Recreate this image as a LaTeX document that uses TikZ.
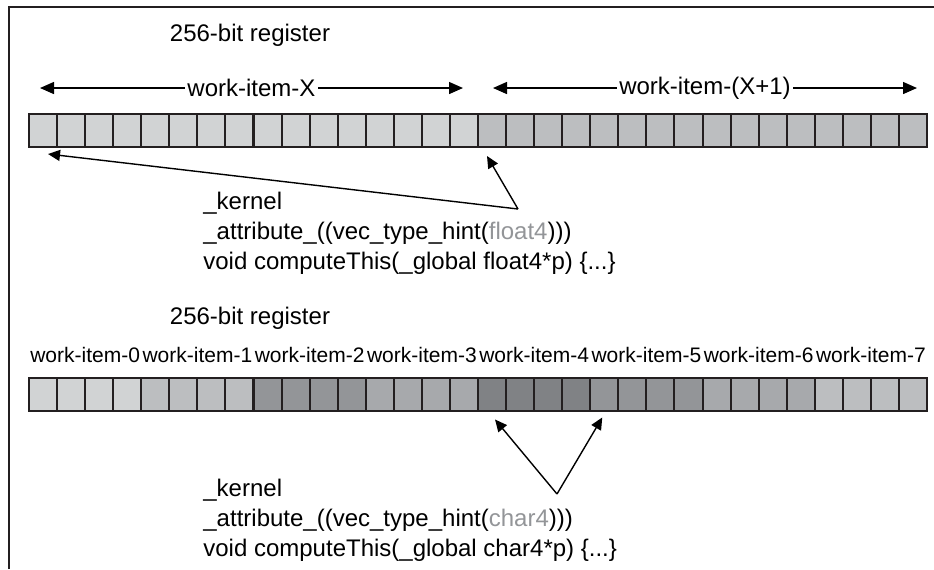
\documentclass[tikz,border=0pt]{standalone}
\usepackage{fontspec}
\setmainfont{Liberation Sans}
\usetikzlibrary{arrows.meta,calc}
\definecolor{lineclr}{HTML}{231F20}
\definecolor{hintclr}{HTML}{939598}
\definecolor{regA}{HTML}{D1D3D4}
\definecolor{regB}{HTML}{BCBEC0}
\definecolor{regC}{HTML}{A7A9AC}
\definecolor{regD}{HTML}{939598}
\definecolor{regE}{HTML}{808285}
\tikzset{
	cell/.style={draw=lineclr, line width=1pt, minimum width=14.03pt, minimum height=16.5pt, inner sep=0pt, outer sep=0pt},
	tip/.style={-{Triangle[length=6pt,width=5.5pt]}, line width=0.7pt},
	wspan/.style={{Triangle[length=7pt,width=6pt]}-{Triangle[length=7pt,width=6pt]}, line width=0.7pt},
	code/.style={anchor=north west, align=left, inner sep=0pt, font=\fontsize{12}{15}\selectfont},
}
\begin{document}
\begin{tikzpicture}[x=0.5pt, y=-0.5pt, font=\fontsize{12}{14}\selectfont]
		\useasboundingbox (0,0) rectangle (934,569);
		\draw [lineclr, line width=1pt] (9,569) -- (9,7) -- (934,7);
		\node (reg1) at (250,35) {256-bit register};
		\coordinate (xl) at (40,88);
		\coordinate (xr) at (463,88);
		\coordinate (yl) at (493,88);
		\coordinate (yr) at (917,88);
		\draw [wspan] (xl) -- node [fill=white, inner sep=1pt] (wx) {work-item-X} (xr);
		\draw [wspan] (yl) -- node [fill=white, inner sep=1pt] (wy) {work-item-(X+1)} (yr);
		\foreach \i in {0,...,31} {
			\pgfmathsetmacro{\cx}{29+28.0625*(\i+0.5)}
			\ifnum\i<16 \def\cc{regA}\else\def\cc{regB}\fi
			\node [cell, fill=\cc] (a\i) at (\cx,130.5) {};
		}
		\coordinate (apex1) at (518,209);
		\draw [tip] (apex1) -- ($(a0.south)+(5,7)$);
		\draw [tip] (apex1) -- ($(a16.south)+(-5,9)$);
		\node [code] (code1) at (203,192) {\_kernel\\\_attribute\_((vec\_type\_hint(\textcolor{hintclr}{float4})))\\void computeThis(\_global float4*p) \{...\}};
		\node (reg2) at (250,318) {256-bit register};
		\foreach \clr [count=\g from 0] in {regA,regB,regD,regC,regE,regD,regC,regB} {
			\node [font=\fontsize{10.5}{12}\selectfont] (wi\g) at ({29+112.25*(\g+0.5)},355) {work-item-\g};
			\foreach \k in {0,...,3} {
				\pgfmathtruncatemacro{\n}{4*\g+\k}
				\node [cell, fill=\clr] (b\n) at ({29+28.0625*(\n+0.5)},394) {};
			}
		}
		\coordinate (apex2) at (557,494);
		\draw [tip] (apex2) -- ($(b16.south)+(3,9)$);
		\draw [tip] (apex2) -- ($(b20.south)+(-2,7)$);
		\node [code] (code2) at (203,479) {\_kernel\\\_attribute\_((vec\_type\_hint(\textcolor{hintclr}{char4})))\\void computeThis(\_global char4*p) \{...\}};
\end{tikzpicture}
\end{document}
